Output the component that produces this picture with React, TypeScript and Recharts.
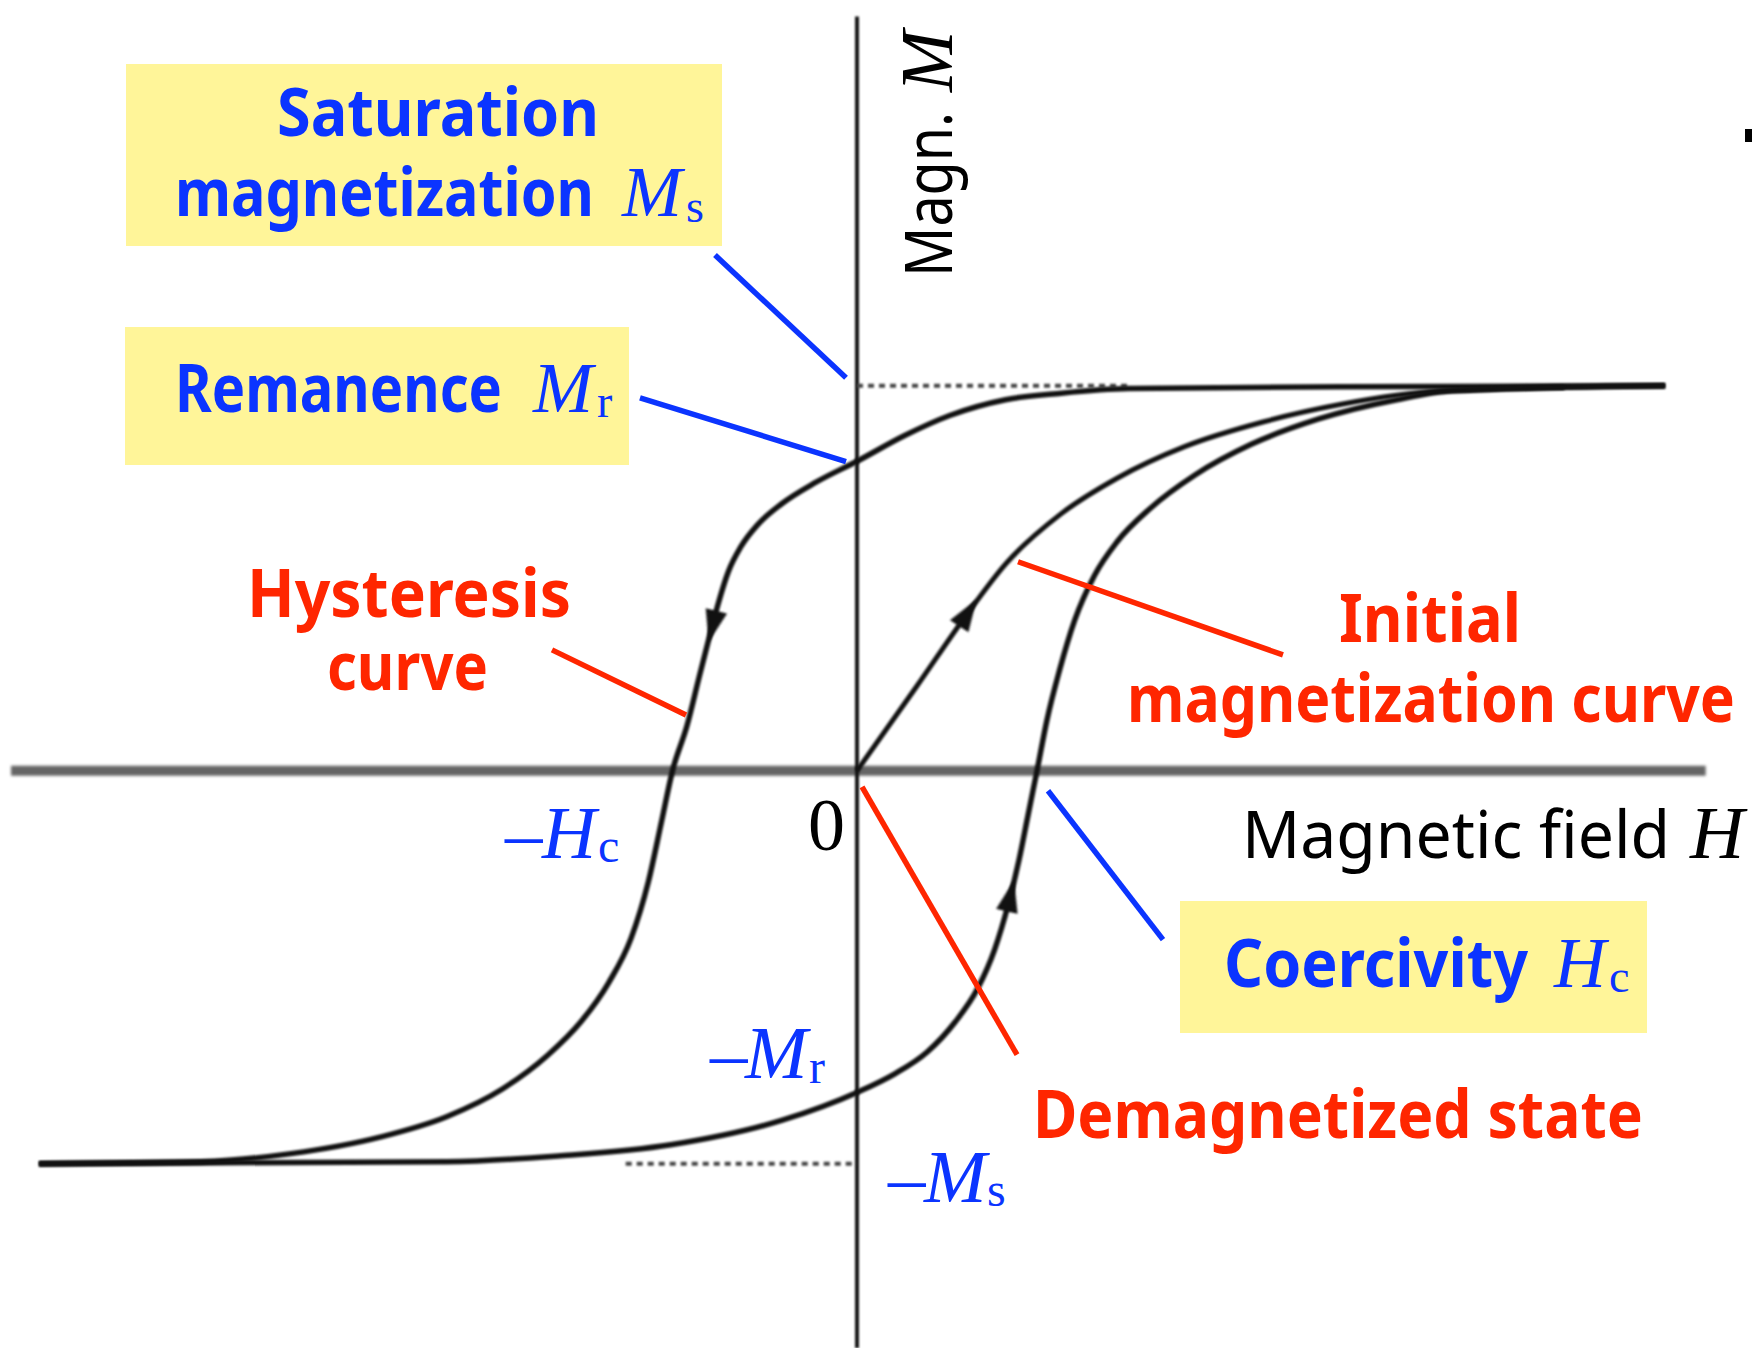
import { ComposedChart, Line, ReferenceLine, Scatter, XAxis, YAxis } from 'recharts';

// H in units of 1/2 Hc, M in units of Ms
const descendingBranch = [
  { H: -9.09, M: -1.021 },
  { H: -7.29, M: -1.016 },
  { H: -6.29, M: -0.995 },
  { H: -5.3, M: -0.952 },
  { H: -4.56, M: -0.899 },
  { H: -3.94, M: -0.827 },
  { H: -3.44, M: -0.74 },
  { H: -3.07, M: -0.653 },
  { H: -2.76, M: -0.551 },
  { H: -2.51, M: -0.435 },
  { H: -2.32, M: -0.29 },
  { H: -2.17, M: -0.13 },
  { H: -2.05, M: 0 },
  { H: -1.89, M: 0.116 },
  { H: -1.75, M: 0.247 },
  { H: -1.64, M: 0.348 },
  { H: -1.54, M: 0.436 },
  { H: -1.43, M: 0.517 },
  { H: -1.29, M: 0.582 },
  { H: -1.1, M: 0.64 },
  { H: -0.84, M: 0.693 },
  { H: -0.46, M: 0.749 },
  { H: 0, M: 0.804 },
  { H: 0.53, M: 0.871 },
  { H: 1.03, M: 0.923 },
  { H: 1.65, M: 0.964 },
  { H: 2.27, M: 0.981 },
  { H: 3.02, M: 0.993 },
  { H: 5.38, M: 0.998 },
  { H: 8.98, M: 1.0 },
];

const ascendingBranch = [
  { H: -9.09, M: -1.021 },
  { H: -4.56, M: -1.016 },
  { H: -3.32, M: -1.001 },
  { H: -2.07, M: -0.972 },
  { H: -0.83, M: -0.908 },
  { H: 0, M: -0.836 },
  { H: 0.41, M: -0.789 },
  { H: 0.78, M: -0.731 },
  { H: 1.09, M: -0.653 },
  { H: 1.34, M: -0.566 },
  { H: 1.53, M: -0.464 },
  { H: 1.68, M: -0.348 },
  { H: 1.8, M: -0.232 },
  { H: 1.9, M: -0.116 },
  { H: 2.0, M: 0 },
  { H: 2.11, M: 0.131 },
  { H: 2.25, M: 0.261 },
  { H: 2.42, M: 0.392 },
  { H: 2.64, M: 0.508 },
  { H: 2.89, M: 0.595 },
  { H: 3.26, M: 0.682 },
  { H: 3.76, M: 0.769 },
  { H: 4.38, M: 0.848 },
  { H: 5.13, M: 0.914 },
  { H: 6.0, M: 0.964 },
  { H: 6.62, M: 0.987 },
  { H: 8.98, M: 1.0 },
];

const initialCurve = [
  { H: 0, M: 0 },
  { H: 0.66, M: 0.218 },
  { H: 1.22, M: 0.406 },
  { H: 1.65, M: 0.537 },
  { H: 2.27, M: 0.668 },
  { H: 2.89, M: 0.76 },
  { H: 3.64, M: 0.842 },
  { H: 4.51, M: 0.906 },
  { H: 5.38, M: 0.952 },
  { H: 6.49, M: 0.987 },
  { H: 7.86, M: 0.996 },
];

// direction markers sitting on each curve
const arrowMarks = [
  { H: -1.6, M: 0.38, curve: 'descending' },
  { H: 1.22, M: 0.406, curve: 'initial' },
  { H: 1.7, M: -0.33, curve: 'ascending' },
];
const arrowHeading: Record<string, number> = { descending: 104, initial: -57, ascending: -77 };

const satDashUpper = [{ x: 0, y: 1.0 }, { x: 3.0, y: 1.0 }];
const satDashLower = [{ x: -2.57, y: -1.021 }, { x: 0, y: -1.021 }];

const hAxisSpan = [{ x: -9.4, y: 0 }, { x: 9.43, y: 0 }];
const mAxisSpan = [{ x: 0, y: 1.96 }, { x: 0, y: -1.5 }];

// callout pointers
const blueLeaders = [
  [{ x: -1.578, y: 1.34 }, { x: -0.122, y: 1.021 }],
  [{ x: -2.411, y: 0.969 }, { x: -0.122, y: 0.803 }],
  [{ x: 2.122, y: -0.052 }, { x: 3.4, y: -0.439 }],
];
const redLeaders = [
  [{ x: -3.389, y: 0.314 }, { x: -1.9, y: 0.145 }],
  [{ x: 1.789, y: 0.543 }, { x: 4.733, y: 0.301 }],
  [{ x: 0.056, y: -0.042 }, { x: 1.778, y: -0.738 }],
];

const W = 1752;
const H = 1348;

const BLUE = '#0b34ff';
const RED = '#ff2600';
const YELLOW = '#fff599';
const INK = '#111';
const comic = '"Comic Sans MS", "Noto Sans", sans-serif';
const serif = '"Liberation Serif", "Times New Roman", serif';

const ArrowHead = (props: any) => {
  const { cx, cy, payload } = props;
  const deg = arrowHeading[payload.curve] ?? 0;
  return (
    <g transform={`translate(${cx},${cy}) rotate(${deg})`} className="soft">
      <path d="M 18 0 L -14 -11 L -14 11 Z" fill={INK} />
    </g>
  );
};

// narrow glyphs stretched back up to a 66px letter height
function Word({ x, y, len, size, color, bold = true, children }: {
  x: number; y: number; len: number; size: number; color: string; bold?: boolean; children: string;
}) {
  return (
    <text x={0} y={0} transform={`translate(${x} ${y}) scale(1 ${(66 / size).toFixed(3)})`} fill={color}
      fontFamily={comic} fontWeight={bold ? 700 : 400} fontSize={size}
      textLength={len} lengthAdjust="spacingAndGlyphs">
      {children}
    </text>
  );
}

function Sym({ x, y, sub, subX, subY, color, size = 75 }: { x: number; y: number; sub: string; subX: number; subY: number; color: string; size?: number }) {
  return (
    <>
      <text x={x} y={y} fill={color} fontFamily={serif} fontStyle="italic" fontSize={size}>{sub[0]}</text>
      <text x={subX} y={subY} fill={color} fontFamily={serif} fontSize={size * 0.64}>{sub.slice(1)}</text>
    </>
  );
}

function Annotations() {
  return (
    <svg width={W} height={H} style={{ position: 'absolute', left: 0, top: 0, pointerEvents: 'none' }}>
      <rect x={126} y={64} width={596} height={182} fill={YELLOW} />
      <rect x={125} y={327} width={504} height={138} fill={YELLOW} />
      <rect x={1180} y={901} width={467} height={132} fill={YELLOW} />

      <Word x={277} y={136} len={322} size={60} color={BLUE}>Saturation</Word>
      <Word x={175} y={216} len={419} size={53} color={BLUE}>magnetization</Word>
      <Sym x={622} y={216} sub="Ms" subX={686} subY={222} color={BLUE} size={72} />

      <Word x={175} y={412} len={327} size={56} color={BLUE}>Remanence</Word>
      <Sym x={533} y={412} sub="Mr" subX={597} subY={417} color={BLUE} size={72} />

      <Word x={1224} y={987} len={304} size={60} color={BLUE}>Coercivity</Word>
      <Sym x={1554} y={987} sub="Hc" subX={1609} subY={992} color={BLUE} size={72} />

      <Word x={247} y={617} len={324} size={61} color={RED}>Hysteresis</Word>
      <Word x={327} y={690} len={161} size={57} color={RED}>curve</Word>
      <Word x={1339} y={642} len={182} size={61} color={RED}>Initial</Word>
      <Word x={1127} y={722} len={608} size={55} color={RED}>magnetization curve</Word>
      <Word x={1033} y={1138} len={610} size={60} color={RED}>Demagnetized state</Word>

      {/* negative intercepts */}
      <text x={505} y={858} fill={BLUE} fontFamily={serif} fontSize={75}>–</text>
      <Sym x={542} y={858} sub="Hc" subX={598} subY={862} color={BLUE} />
      <text x={710} y={1078} fill={BLUE} fontFamily={serif} fontSize={75}>–</text>
      <Sym x={745} y={1078} sub="Mr" subX={809} subY={1083} color={BLUE} />
      <text x={888} y={1202} fill={BLUE} fontFamily={serif} fontSize={75}>–</text>
      <Sym x={924} y={1202} sub="Ms" subX={987} subY={1206} color={BLUE} />

      <text x={808} y={850} fill="#000" fontFamily={serif} fontSize={74}>0</text>

      <Word x={1242} y={858} len={428} size={63} color="#000" bold={false}>Magnetic field</Word>
      <text x={1690} y={858} fill="#000" fontFamily={serif} fontStyle="italic" fontSize={75}>H</text>

      <text x={952} y={277} transform="rotate(-90 952 277)" fill="#000" fontFamily={comic} fontSize={66}
        textLength={165} lengthAdjust="spacingAndGlyphs">Magn.</text>
      <text x={952} y={92} transform="rotate(-90 952 92)" fill="#000" fontFamily={serif} fontStyle="italic" fontSize={74}>M</text>

      <rect x={1745} y={129} width={7} height={13} fill="#000" />
    </svg>
  );
}

export default function App() {
  return (
    <div style={{ position: 'absolute', left: 0, top: 0, width: W, height: H, background: '#fff' }}>
      <style>{`.soft path, .soft line { filter: blur(0.9px); } .haze line { filter: blur(1.6px); }`}</style>
      <ComposedChart width={W} height={H} margin={{ top: 1, right: 40, bottom: 0, left: 2 }}>
        <XAxis type="number" dataKey="H" domain={[-9.5, 9.5]} allowDataOverflow hide />
        <YAxis type="number" dataKey="M" domain={[-1.5, 2]} allowDataOverflow hide />

        <ReferenceLine segment={hAxisSpan} stroke="#656565" strokeWidth={10} className="haze" ifOverflow="visible" />
        <ReferenceLine segment={mAxisSpan} stroke="#151515" strokeWidth={4} className="soft" ifOverflow="visible" />
        <ReferenceLine segment={satDashUpper} stroke="#444" strokeWidth={4} strokeDasharray="6 5" className="soft" />
        <ReferenceLine segment={satDashLower} stroke="#444" strokeWidth={4} strokeDasharray="6 5" className="soft" />

        <Line data={descendingBranch} dataKey="M" type="monotone" stroke={INK} strokeWidth={5.5}
          dot={false} isAnimationActive={false} className="soft" />
        <Line data={ascendingBranch} dataKey="M" type="monotone" stroke={INK} strokeWidth={5.5}
          dot={false} isAnimationActive={false} className="soft" />
        <Line data={initialCurve} dataKey="M" type="monotone" stroke={INK} strokeWidth={5}
          dot={false} isAnimationActive={false} className="soft" />
        <Scatter data={arrowMarks} dataKey="M" shape={ArrowHead} isAnimationActive={false} />

        {blueLeaders.map((seg, i) => (
          <ReferenceLine key={`b${i}`} segment={seg} stroke={BLUE} strokeWidth={5.5} />
        ))}
        {redLeaders.map((seg, i) => (
          <ReferenceLine key={`r${i}`} segment={seg} stroke={RED} strokeWidth={5.5} />
        ))}
      </ComposedChart>
      <Annotations />
    </div>
  );
}
